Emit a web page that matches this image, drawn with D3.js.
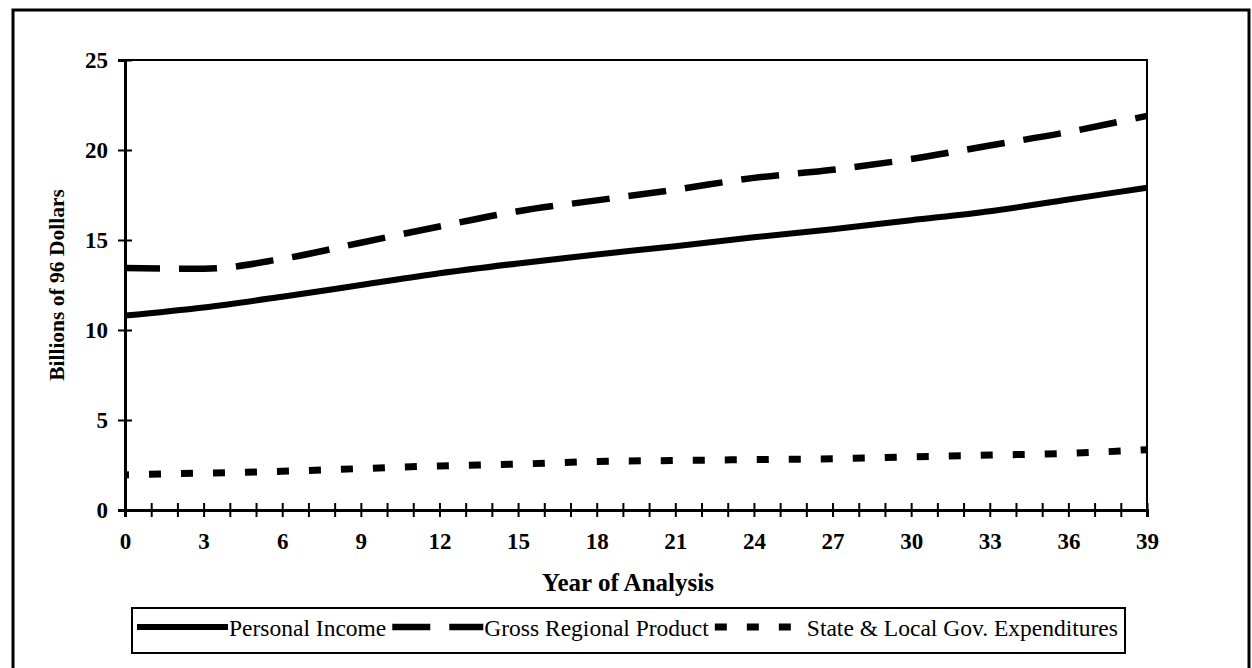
<!DOCTYPE html>
<html>
<head>
<meta charset="utf-8">
<script src="https://cdn.jsdelivr.net/npm/d3@7"></script>
<style>
  html, body { margin: 0; padding: 0; background: #fff; }
  svg { display: block; font-family: "Liberation Serif", "Times New Roman", serif; }
</style>
</head>
<body>
<svg id="chart" width="1252" height="668"></svg>
<script>
// values (billions of 1996 dollars)
const years = [0, 3, 6, 9, 12, 15, 18, 21, 24, 27, 30, 33, 36, 39];
const personalIncome = [10.8, 11.25, 11.85, 12.5, 13.15, 13.7, 14.2, 14.65, 15.15, 15.6, 16.1, 16.6, 17.25, 17.9];
const grossRegionalProduct = [13.45, 13.4, 13.95, 14.85, 15.75, 16.6, 17.2, 17.8, 18.45, 18.9, 19.5, 20.25, 21.0, 21.9];
const stateLocalGov = [1.95, 2.05, 2.15, 2.3, 2.45, 2.55, 2.7, 2.75, 2.8, 2.85, 2.95, 3.05, 3.15, 3.35];

const seriesNames = ['Personal Income', 'Gross Regional Product', 'State & Local Gov. Expenditures'];
const yTicks = [0, 5, 10, 15, 20, 25];
const xLabelTicks = d3.range(0, 40, 3);

const series = [
    { name: seriesNames[0], values: personalIncome, dash: null, width: 6, offset: 0 },
    { name: seriesNames[1], values: grossRegionalProduct, dash: '38,19', width: 6.5, offset: 3 },
    { name: seriesNames[2], values: stateLocalGov, dash: '12,20', width: 7, offset: 8 }
];

const svg = d3.select('#chart');
const margin = { left: 125, right: 105, top: 60, bottom: 158 };
const width = 1252, height = 668;

// outer frame
svg.append('rect')
    .attr('x', 13).attr('y', 10)
    .attr('width', 1236).attr('height', 700)
    .attr('fill', 'none').attr('stroke', '#000').attr('stroke-width', 3);

const x = d3.scaleLinear().domain([0, 39]).range([margin.left, width - margin.right]);
const y = d3.scaleLinear().domain([0, 25]).range([height - margin.bottom, margin.top]);

// plot box (top + right)
svg.append('path')
    .attr('d', `M${x(0)},${y(25)}H${x(39)}V${y(0)}`)
    .attr('fill', 'none').attr('stroke', '#000').attr('stroke-width', 2);

// y axis
const yAxis = svg.append('g')
    .attr('transform', `translate(${x(0)},0)`)
    .call(d3.axisLeft(y).tickValues(yTicks).tickSize(7).tickPadding(10).tickFormat(d3.format('d')));
yAxis.select('.domain').attr('stroke-width', 3);
yAxis.selectAll('.tick line').attr('x2', 7).attr('x1', -7).attr('stroke-width', 2);
yAxis.selectAll('.tick text')
    .attr('font-size', 23).attr('font-weight', 'bold')
    .attr('font-family', '"Liberation Serif", serif');

// x axis: a tick every year, labels every 3
const xAxis = svg.append('g')
    .attr('transform', `translate(0,${y(0)})`)
    .call(d3.axisBottom(x).tickValues(d3.range(0, 40)).tickSize(7).tickPadding(16)
        .tickFormat(d => xLabelTicks.includes(d) ? d : ''));
xAxis.select('.domain').attr('stroke-width', 3);
xAxis.selectAll('.tick line').attr('y1', -7).attr('y2', 7).attr('stroke-width', 2);
xAxis.selectAll('.tick text')
    .attr('font-size', 23).attr('font-weight', 'bold')
    .attr('font-family', '"Liberation Serif", serif');

// axis titles
svg.append('text')
    .attr('x', 628).attr('y', 591)
    .attr('text-anchor', 'middle')
    .attr('font-size', 25).attr('font-weight', 'bold')
    .text('Year of Analysis');

svg.append('text')
    .attr('transform', `translate(64,${(y(0) + y(25)) / 2}) rotate(-90)`)
    .attr('text-anchor', 'middle')
    .attr('font-size', 21.5).attr('font-weight', 'bold')
    .text('Billions of 96 Dollars');

// lines
const line = d3.line()
    .x((d, i) => x(years[i]))
    .y(d => y(d))
    .curve(d3.curveMonotoneX);

svg.append('g').selectAll('path')
    .data(series)
    .join('path')
    .attr('d', d => line(d.values))
    .attr('fill', 'none')
    .attr('stroke', '#000')
    .attr('stroke-width', d => d.width)
    .attr('stroke-dasharray', d => d.dash)
    .attr('stroke-dashoffset', d => d.offset);

// legend
const legend = svg.append('g');
legend.append('rect')
    .attr('x', 132).attr('y', 608)
    .attr('width', 993).attr('height', 45)
    .attr('fill', 'none').attr('stroke', '#000').attr('stroke-width', 2);

let cursor = 137;
const sampleLen = 91;
series.forEach(s => {
    legend.append('line')
        .attr('x1', cursor).attr('x2', cursor + sampleLen)
        .attr('y1', 627).attr('y2', 627)
        .attr('stroke', '#000')
        .attr('stroke-width', s.width)
        .attr('stroke-dasharray', s.dash);
    const t = legend.append('text')
        .attr('x', cursor + sampleLen + 1).attr('y', 636)
        .attr('font-size', 23.5)
        .text(s.name);
    cursor += sampleLen + 1 + t.node().getComputedTextLength() + 6;
});
</script>
</body>
</html>
